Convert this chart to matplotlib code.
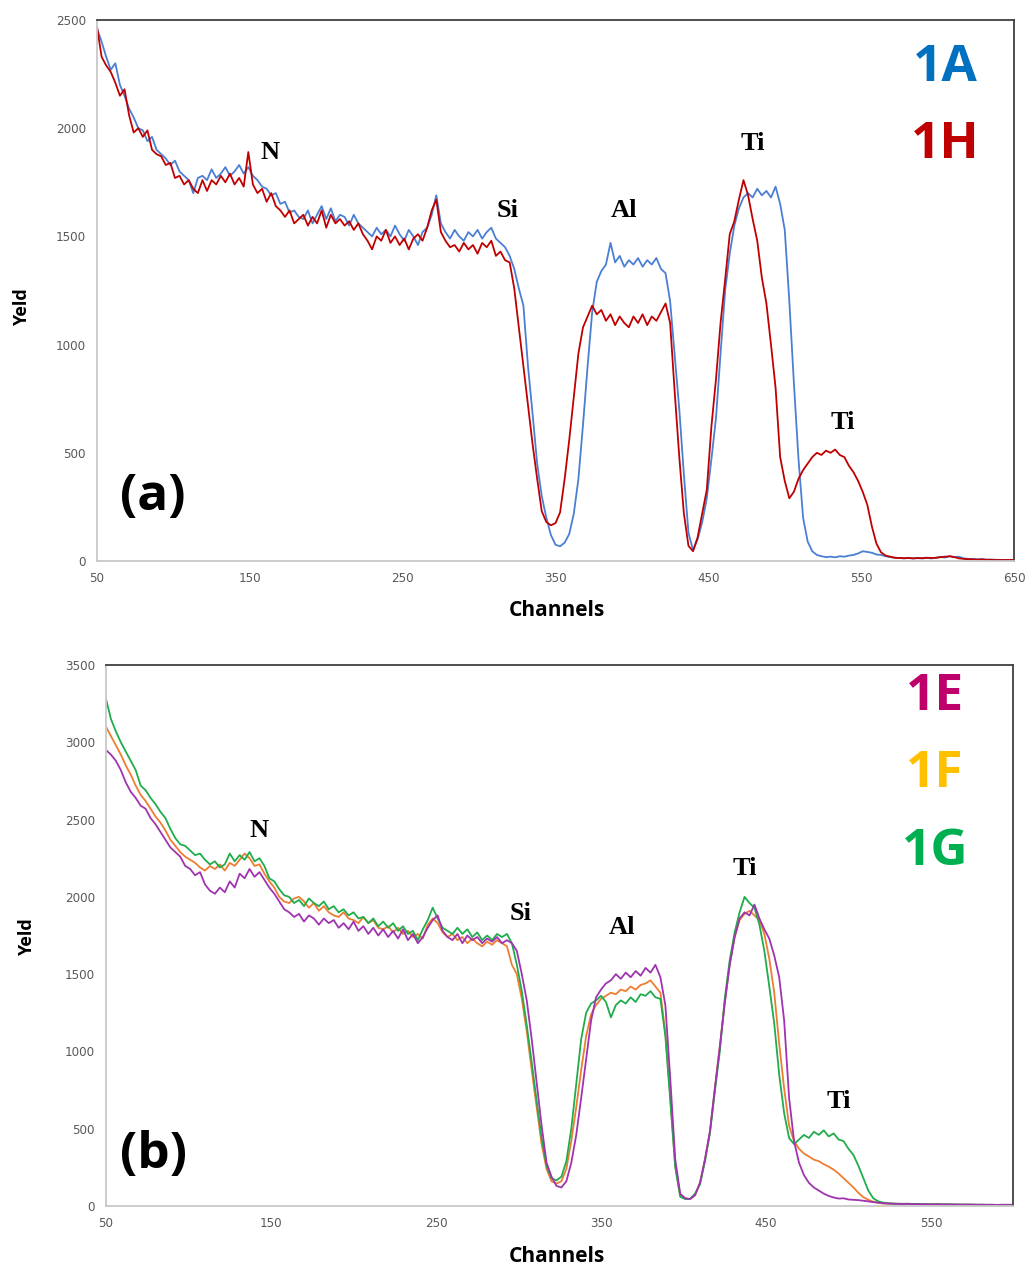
import matplotlib
matplotlib.use("Agg")
import matplotlib.pyplot as plt
import numpy as np

# ---- panel (a): 1A / 1H spectra, channels 50..650 every 3 ----
chan_a = np.arange(50, 651, 3)

y_1A = [2460, 2400, 2330, 2270, 2300, 2200, 2150, 2090, 2050, 2000,   # 50
        1990, 1940, 1960, 1900, 1880, 1860, 1830, 1850, 1800, 1780,   # 80
        1760, 1700, 1770, 1780, 1760, 1810, 1770, 1790, 1820, 1780,   # 110
        1800, 1830, 1790, 1820, 1780, 1760, 1730, 1720, 1690, 1700,   # 140
        1650, 1660, 1610, 1620, 1590, 1580, 1620, 1560, 1600, 1640,   # 170
        1580, 1630, 1570, 1600, 1590, 1550, 1600, 1560, 1540, 1520,   # 200
        1500, 1540, 1510, 1530, 1500, 1550, 1510, 1480, 1530, 1500,   # 230
        1460, 1520, 1540, 1600, 1690, 1560, 1520, 1490, 1530, 1500,   # 260
        1480, 1520, 1500, 1530, 1490, 1520, 1540, 1490, 1470, 1450,   # 290
        1410, 1350, 1260, 1180, 900, 680, 450, 300, 200, 120,         # 320
        75, 68, 85, 125, 220, 380, 630, 900, 1150, 1290,              # 350
        1340, 1370, 1470, 1380, 1410, 1360, 1390, 1370, 1400, 1360,   # 380
        1390, 1370, 1400, 1350, 1330, 1200, 950, 700, 400, 130,       # 410
        50, 100, 180, 290, 470, 660, 960, 1250, 1420, 1550,           # 440
        1630, 1680, 1700, 1680, 1720, 1690, 1710, 1680, 1730, 1650,   # 470
        1530, 1200, 820, 470, 200, 90, 45, 28, 22, 18,                # 500
        20, 17, 22, 20, 25, 28, 35, 45, 42, 38,                       # 530
        30, 28, 22, 18, 15, 14, 12, 14, 12, 13,                       # 560
        12, 14, 12, 15, 18, 16, 22, 18, 20, 12,                       # 590
        10, 9, 8, 8, 7, 6, 6, 5, 5, 5,                                # 620
        5]                                                            # 650

y_1H = [2470, 2330, 2290, 2260, 2210, 2150, 2180, 2060, 1980, 2000,   # 50
        1960, 1990, 1900, 1880, 1870, 1830, 1840, 1770, 1780, 1740,   # 80
        1760, 1720, 1700, 1760, 1710, 1760, 1740, 1780, 1750, 1790,   # 110
        1740, 1770, 1730, 1890, 1740, 1700, 1720, 1660, 1700, 1640,   # 140
        1620, 1590, 1620, 1560, 1580, 1600, 1550, 1590, 1560, 1620,   # 170
        1540, 1600, 1560, 1580, 1550, 1570, 1530, 1560, 1510, 1480,   # 200
        1440, 1500, 1480, 1530, 1470, 1500, 1460, 1490, 1440, 1490,   # 230
        1510, 1480, 1540, 1620, 1670, 1520, 1480, 1450, 1460, 1430,   # 260
        1470, 1440, 1460, 1420, 1470, 1450, 1480, 1410, 1430, 1390,   # 290
        1380, 1260, 1080, 900, 720, 540, 380, 230, 180, 165,          # 320
        175, 225, 380, 560, 760, 960, 1080, 1130, 1180, 1140,         # 350
        1160, 1110, 1140, 1090, 1130, 1100, 1080, 1130, 1100, 1140,   # 380
        1090, 1130, 1110, 1150, 1190, 1100, 780, 480, 220, 70,        # 410
        45, 110, 220, 330, 620, 840, 1100, 1300, 1510, 1570,          # 440
        1670, 1760, 1690, 1580, 1480, 1310, 1190, 1000, 800, 480,     # 470
        370, 290, 320, 380, 420, 450, 480, 500, 490, 510,             # 500
        500, 515, 490, 480, 440, 410, 370, 320, 260, 160,             # 530
        80, 40, 25, 20, 15, 14, 13, 14, 12, 14,                       # 560
        13, 15, 14, 15, 18, 20, 22, 18, 12, 10,                       # 590
        8, 8, 6, 8, 5, 6, 4, 5, 4, 5,                                 # 620
        5]                                                            # 650

# ---- panel (b): 1E / 1F / 1G spectra, channels 50..599 every 3 ----
chan_b = np.arange(50, 600, 3)

y_1E = [2950, 2920, 2880, 2820, 2740, 2680, 2640, 2590, 2570, 2510,   # 50
        2470, 2420, 2370, 2320, 2290, 2260, 2200, 2180, 2140, 2160,   # 80
        2080, 2040, 2020, 2060, 2030, 2100, 2060, 2150, 2120, 2180,   # 110
        2130, 2160, 2110, 2060, 2020, 1970, 1920, 1900, 1870, 1890,   # 140
        1840, 1880, 1860, 1820, 1860, 1830, 1850, 1800, 1830, 1790,   # 170
        1840, 1780, 1810, 1760, 1800, 1750, 1790, 1740, 1780, 1730,   # 200
        1790, 1720, 1760, 1700, 1740, 1800, 1850, 1880, 1780, 1740,   # 230
        1720, 1760, 1700, 1750, 1720, 1740, 1700, 1730, 1710, 1740,   # 260
        1700, 1720, 1700, 1650, 1500, 1330, 1080, 800, 520, 280,      # 290
        190, 130, 120, 160, 280, 460, 700, 950, 1200, 1350,           # 320
        1400, 1440, 1460, 1500, 1470, 1510, 1480, 1520, 1490, 1540,   # 350
        1510, 1560, 1480, 1300, 820, 300, 80, 50, 45, 70,             # 380
        150, 300, 480, 760, 1030, 1310, 1560, 1740, 1860, 1900,       # 410
        1880, 1950, 1860, 1790, 1730, 1620, 1480, 1200, 700, 420,     # 440
        280, 200, 150, 120, 100, 80, 65, 55, 48, 50,                  # 470
        42, 40, 38, 34, 30, 25, 22, 18, 16, 15,                       # 500
        14, 13, 14, 12, 12, 11, 11, 10, 11, 10,                       # 530
        10, 9, 9, 9, 8, 9, 8, 8, 7, 8,                                # 560
        7, 7, 8, 7]                                                   # 590

y_1F = [3100, 3040, 2980, 2920, 2850, 2790, 2720, 2660, 2620, 2570,   # 50
        2520, 2480, 2430, 2370, 2330, 2290, 2260, 2240, 2220, 2190,   # 80
        2170, 2200, 2180, 2210, 2170, 2220, 2200, 2240, 2280, 2250,   # 110
        2200, 2210, 2150, 2100, 2060, 2000, 1970, 1960, 1990, 2000,   # 140
        1970, 1930, 1960, 1910, 1940, 1900, 1880, 1870, 1900, 1860,   # 170
        1850, 1830, 1870, 1830, 1850, 1800, 1790, 1810, 1770, 1800,   # 200
        1760, 1780, 1740, 1760, 1730, 1820, 1860, 1830, 1770, 1740,   # 230
        1760, 1720, 1740, 1700, 1730, 1700, 1680, 1710, 1690, 1720,   # 260
        1700, 1680, 1560, 1500, 1340, 1130, 880, 640, 400, 240,       # 290
        160, 145, 160, 240, 420, 640, 880, 1100, 1240, 1300,          # 320
        1340, 1360, 1380, 1370, 1400, 1390, 1420, 1400, 1430, 1440,   # 350
        1460, 1420, 1380, 1120, 700, 260, 70, 50, 45, 70,             # 380
        150, 300, 480, 760, 1030, 1320, 1560, 1740, 1850, 1890,       # 410
        1910, 1880, 1850, 1760, 1600, 1380, 1050, 760, 520, 420,      # 440
        370, 340, 320, 300, 290, 270, 255, 235, 210, 180,             # 470
        150, 120, 85, 57, 40, 28, 20, 16, 15, 14,                     # 500
        13, 14, 12, 12, 11, 12, 10, 11, 10, 10,                       # 530
        9, 10, 9, 8, 9, 8, 8, 7, 8, 7,                                # 560
        7, 8, 7, 7]                                                   # 590

y_1G = [3280, 3150, 3070, 3000, 2940, 2880, 2820, 2720, 2690, 2640,   # 50
        2600, 2550, 2510, 2440, 2380, 2340, 2330, 2300, 2270, 2280,   # 80
        2240, 2210, 2230, 2190, 2210, 2280, 2230, 2270, 2240, 2290,   # 110
        2230, 2250, 2200, 2120, 2100, 2050, 2010, 2000, 1960, 1980,   # 140
        1940, 1990, 1960, 1940, 1970, 1920, 1940, 1900, 1920, 1880,   # 170
        1900, 1860, 1870, 1830, 1860, 1810, 1840, 1800, 1830, 1780,   # 200
        1810, 1760, 1780, 1720, 1790, 1850, 1930, 1860, 1800, 1780,   # 230
        1760, 1800, 1760, 1790, 1740, 1770, 1720, 1750, 1720, 1760,   # 260
        1740, 1760, 1700, 1560, 1390, 1170, 930, 680, 440, 260,       # 290
        180, 165, 190, 290, 500, 790, 1080, 1250, 1310, 1330,         # 320
        1360, 1320, 1220, 1300, 1330, 1310, 1350, 1320, 1370, 1360,   # 350
        1390, 1350, 1340, 1100, 680, 250, 60, 45, 46, 80,             # 380
        140, 290, 470, 740, 1000, 1340, 1590, 1770, 1900, 2000,       # 410
        1960, 1930, 1820, 1650, 1420, 1180, 850, 600, 440, 400,       # 440
        430, 460, 440, 480, 460, 490, 450, 470, 430, 420,             # 470
        370, 330, 260, 180, 100, 50, 30, 22, 18, 16,                  # 500
        15, 14, 15, 13, 14, 12, 12, 11, 12, 10,                       # 530
        11, 10, 10, 9, 10, 9, 8, 9, 8, 8,                             # 560
        7, 8, 7, 8]                                                   # 590

for name, ys, xs in [("1A", y_1A, chan_a), ("1H", y_1H, chan_a),
                     ("1E", y_1E, chan_b), ("1F", y_1F, chan_b), ("1G", y_1G, chan_b)]:
    assert len(ys) == len(xs), (name, len(ys), len(xs))

W, H = 1028, 1268
fig = plt.figure(figsize=(W / 100, H / 100), dpi=100)

elem_kw = dict(fontsize=19, fontweight="bold", family="Liberation Serif", ha="center", va="center")
big_kw = dict(fontsize=37, fontweight="bold", family="Open Sans", ha="center", va="center")


def px(x, y):
    return x / W, 1 - y / H


def style_axes(ax):
    for side in ("top", "right"):
        ax.spines[side].set_color("#404040")
        ax.spines[side].set_linewidth(1.3)
    for side in ("left", "bottom"):
        ax.spines[side].set_color("#c8c8c8")
        ax.spines[side].set_linewidth(1.3)
    ax.tick_params(length=0, pad=8)
    for lab in ax.get_xticklabels() + ax.get_yticklabels():
        lab.set_fontsize(9.5)
        lab.set_color("#595959")
        lab.set_fontstretch("condensed")


# ---------- (a) ----------
ax1 = fig.add_axes([97 / W, 1 - 561 / H, 917 / W, 541 / H])
ax1.plot(chan_a, y_1A, color="#4a7fd4", lw=1.3)
ax1.plot(chan_a, y_1H, color="#c00000", lw=1.3)
ax1.set_xlim(50, 650)
ax1.set_ylim(0, 2500)
ax1.set_xticks([50, 150, 250, 350, 450, 550, 650])
ax1.set_yticks([0, 500, 1000, 1500, 2000, 2500])
style_axes(ax1)

ax1.text(163, 1890, "N", **elem_kw)
ax1.text(319, 1620, "Si", **elem_kw)
ax1.text(395, 1620, "Al", **elem_kw)
ax1.text(479, 1930, "Ti", **elem_kw)
ax1.text(538, 640, "Ti", **elem_kw)

fig.text(*px(945, 68), "1A", color="#0070c0", **big_kw)
fig.text(*px(945, 145), "1H", color="#c00000", **big_kw)
fig.text(*px(153, 497), "(a)", color="black", **big_kw)
fig.text(*px(22, 307), "Yeld", rotation=90, fontsize=13, fontweight="bold",
         family="Open Sans", ha="center", va="center")
fig.text(*px(557, 610), "Channels", fontsize=15, fontweight="bold",
         family="Open Sans", ha="center", va="center")

# ---------- (b) ----------
ax2 = fig.add_axes([106 / W, 1 - 1206 / H, 907.5 / W, 541 / H])
ax2.plot(chan_b, y_1F, color="#ee7d31", lw=1.3)
ax2.plot(chan_b, y_1G, color="#1fad4c", lw=1.3)
ax2.plot(chan_b, y_1E, color="#a033b0", lw=1.3)
ax2.set_xlim(50, 600)
ax2.set_ylim(0, 3500)
ax2.set_xticks([50, 150, 250, 350, 450, 550])
ax2.set_yticks(np.arange(0, 3501, 500))
style_axes(ax2)

ax2.text(143, 2430, "N", **elem_kw)
ax2.text(301, 1890, "Si", **elem_kw)
ax2.text(363, 1800, "Al", **elem_kw)
ax2.text(437, 2185, "Ti", **elem_kw)
ax2.text(494, 675, "Ti", **elem_kw)

fig.text(*px(935, 697), "1E", color="#c0006a", **big_kw)
fig.text(*px(935, 774), "1F", color="#ffc000", **big_kw)
fig.text(*px(935, 852), "1G", color="#00b050", **big_kw)
fig.text(*px(153, 1155), "(b)", color="black", **big_kw)
fig.text(*px(27, 937), "Yeld", rotation=90, fontsize=13, fontweight="bold",
         family="Open Sans", ha="center", va="center")
fig.text(*px(557, 1256), "Channels", fontsize=15, fontweight="bold",
         family="Open Sans", ha="center", va="center")

fig.savefig("out.png", dpi=100)
